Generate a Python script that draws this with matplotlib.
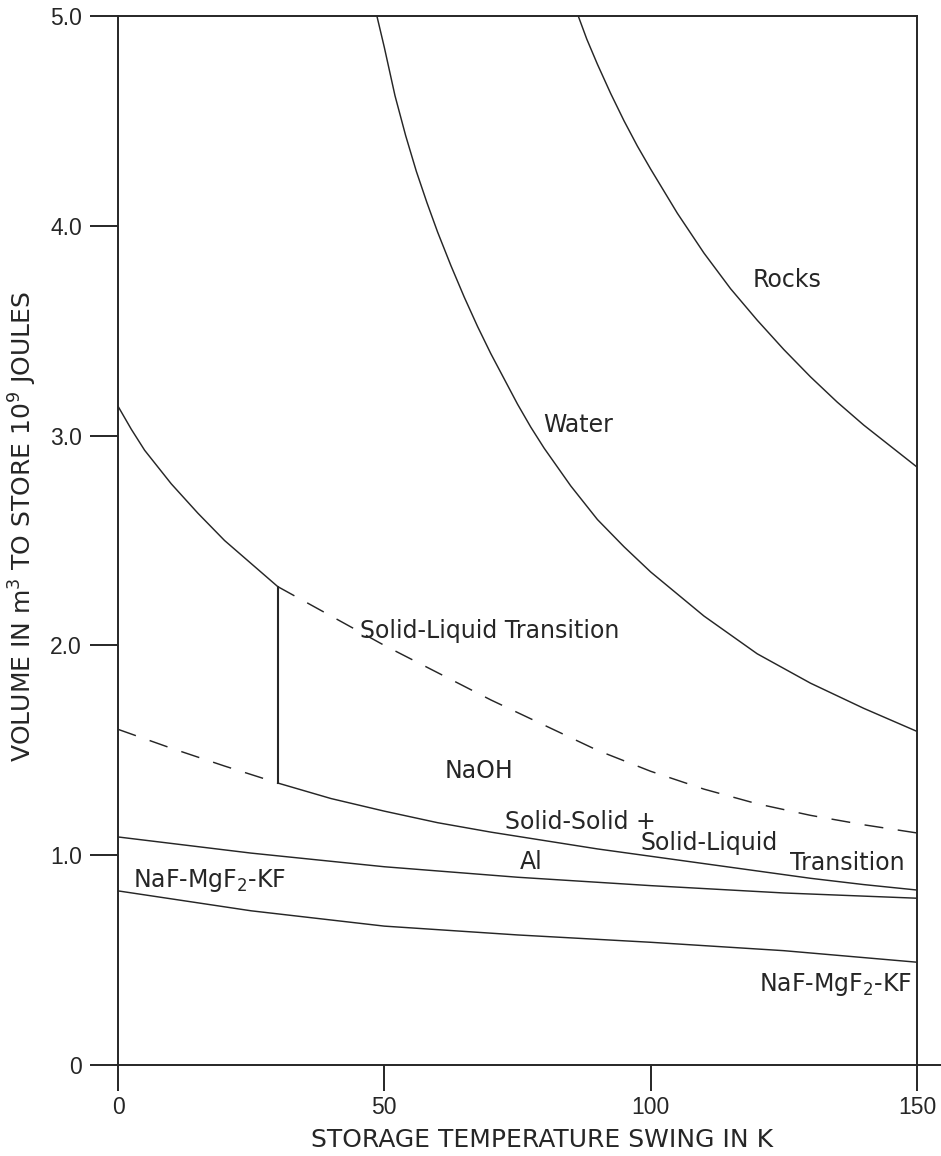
import matplotlib
matplotlib.use("Agg")
import matplotlib.pyplot as plt

plt.rcParams['font.family'] = ['Liberation Sans', 'DejaVu Sans']
plt.rcParams['mathtext.default'] = 'regular'

INK = '#262626'
LABEL_FONT = ['DejaVu Sans']

# Storage temperature swing (K) vs. volume (m^3) needed to store 1e9 J
rocks_x = [86.4, 88, 90, 92.5, 95, 97.5, 100, 105, 110, 115, 120, 125, 130,
           135, 140, 145, 150]
rocks_y = [5.0, 4.89, 4.77, 4.63, 4.50, 4.38, 4.27, 4.06, 3.87, 3.70, 3.55,
           3.41, 3.28, 3.16, 3.05, 2.95, 2.85]

water_x = [48.6, 50, 52, 54, 56, 58, 60, 62.5, 65, 67.5, 70, 72.5, 75, 77.5,
           80, 85, 90, 95, 100, 110, 120, 130, 140, 150]
water_y = [5.0, 4.85, 4.62, 4.43, 4.26, 4.11, 3.97, 3.81, 3.66, 3.52, 3.39,
           3.27, 3.15, 3.04, 2.94, 2.76, 2.60, 2.47, 2.35, 2.14, 1.96, 1.82,
           1.70, 1.59]

# NaOH, solid-liquid transition: measured part and extrapolated part
naoh_sl_x = [0, 2.5, 5, 7.5, 10, 12.5, 15, 17.5, 20, 22.5, 25, 27.5, 30]
naoh_sl_y = [3.14, 3.03, 2.93, 2.85, 2.77, 2.70, 2.63, 2.565, 2.50, 2.445,
             2.39, 2.335, 2.28]
naoh_sl_ext_x = [30, 40, 50, 60, 70, 80, 90, 100, 110, 120, 130, 140, 150]
naoh_sl_ext_y = [2.28, 2.14, 2.00, 1.87, 1.74, 1.62, 1.50, 1.40, 1.315, 1.245,
                 1.19, 1.145, 1.106]

# NaOH, solid-solid + solid-liquid transition
naoh_ss_ext_x = [0, 10, 20, 30]
naoh_ss_ext_y = [1.60, 1.51, 1.425, 1.344]
naoh_ss_x = [30, 40, 50, 60, 70, 80, 90, 100, 110, 120, 130, 140, 150]
naoh_ss_y = [1.344, 1.27, 1.21, 1.155, 1.11, 1.07, 1.03, 0.995, 0.96, 0.925,
             0.89, 0.86, 0.834]

al_x = [0, 25, 50, 75, 100, 125, 150]
al_y = [1.087, 1.01, 0.945, 0.895, 0.855, 0.82, 0.795]

naf_x = [0, 25, 50, 75, 100, 125, 150]
naf_y = [0.83, 0.735, 0.662, 0.62, 0.585, 0.545, 0.49]

x_ticks = [0, 50, 100, 150]
x_tick_labels = ['0', '50', '100', '150']
y_ticks = [0, 1, 2, 3, 4, 5]
y_tick_labels = ['0', '1.0', '2.0', '3.0', '4.0', '5.0']

fig = plt.figure(figsize=(9.41, 11.56), dpi=100)
ax = fig.add_axes([0.1254, 0.0787, 0.8491, 0.9075])

ax.set_xlim(0, 150)
ax.set_ylim(0, 5)

solid = dict(color=INK, lw=1.05, solid_capstyle='butt', solid_joinstyle='round')
dashed = dict(color=INK, lw=1.05, linestyle=(0, (13, 10)))

ax.plot(rocks_x, rocks_y, **solid)
ax.plot(water_x, water_y, **solid)
ax.plot(naoh_sl_x, naoh_sl_y, **solid)
ax.plot(naoh_sl_ext_x, naoh_sl_ext_y, **dashed)
ax.plot(naoh_ss_ext_x, naoh_ss_ext_y, **dashed)
ax.plot(naoh_ss_x, naoh_ss_y, **solid)
ax.plot(al_x, al_y, **solid)
ax.plot(naf_x, naf_y, **solid)

# Vertical connector between the two NaOH curves at 30 K
ax.plot([naoh_sl_x[-1], naoh_ss_x[0]], [naoh_sl_y[-1], naoh_ss_y[0]],
        color=INK, lw=1.5)

# Baseline runs past the right frame edge
ax.plot([150, 155], [0, 0], color=INK, lw=1.4, clip_on=False)

for side in ['left', 'right', 'top', 'bottom']:
    ax.spines[side].set_color(INK)
    ax.spines[side].set_linewidth(1.4)

ax.set_xticks(x_ticks)
ax.set_xticklabels(x_tick_labels)
ax.set_yticks(y_ticks)
ax.set_yticklabels(y_tick_labels)
ax.tick_params(axis='y', direction='out', length=20, width=1.4, color=INK,
               labelsize=16.5, labelcolor=INK, pad=6)
ax.tick_params(axis='x', direction='out', length=19, width=1.4, color=INK,
               labelsize=16.5, labelcolor=INK, pad=3)

fig.text(542 / 941, 1 - 1140 / 1156, 'STORAGE TEMPERATURE SWING IN K',
         fontsize=18, color=INK, family=LABEL_FONT, ha='center', va='center')
fig.text(23 / 941, 1 - 527 / 1156, 'VOLUME IN m$^3$ TO STORE 10$^9$ JOULES',
         fontsize=18, color=INK, family=LABEL_FONT, rotation=90,
         ha='center', va='center')

lab = dict(fontsize=17, color=INK, family=LABEL_FONT)
ax.text(119.2, 3.74, 'Rocks', ha='left', va='center', **lab)
ax.text(79.8, 3.05, 'Water', ha='left', va='center', **lab)
ax.text(45.4, 2.07, 'Solid-Liquid Transition', ha='left', va='center', **lab)
ax.text(61.4, 1.40, 'NaOH', ha='left', va='center', **lab)
ax.text(72.6, 1.16, 'Solid-Solid +', ha='left', va='center', **lab)
ax.text(98.0, 1.058, 'Solid-Liquid', ha='left', va='center', **lab)
ax.text(126.2, 0.963, 'Transition', ha='left', va='center', **lab)
ax.text(75.5, 0.97, 'Al', ha='left', va='center', **lab)
ax.text(2.8, 0.88, 'NaF-MgF$_2$-KF', ha='left', va='center', **lab)
ax.text(149.0, 0.386, 'NaF-MgF$_2$-KF', ha='right', va='center', **lab)

fig.savefig('out.png', dpi=100, facecolor='white')
